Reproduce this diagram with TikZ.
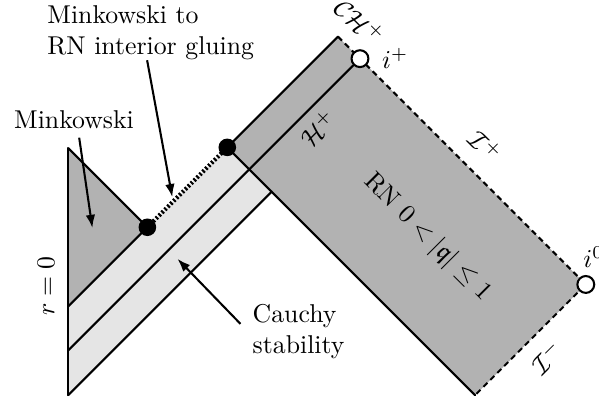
\documentclass[tikz,border=0pt]{standalone}
\usepackage{amssymb}
\usetikzlibrary{positioning,arrows.meta}

\begin{document}
\begin{tikzpicture}[
	>={Latex[length=1.8mm,width=1.3mm]},
	dark/.style={fill=black!30},
	light/.style={fill=black!10},
	wl/.style={thick, line cap=round},
	scri/.style={thick, dash pattern=on 2.2pt off 1.6pt},
	gluing/.style={line width=1.6pt, dash pattern=on 0.8pt off 0.8pt},
	dot/.style={circle, fill=black, inner sep=0pt, minimum size=2.4mm},
	open/.style={circle, draw, thick, fill=white, inner sep=0pt, minimum size=2.3mm},
	lbl/.style={->, thick},
]
\useasboundingbox (-0.93,-0.10) rectangle (7.24,5.39);

% ---- corner points of the diagram ----
\coordinate (O)   at (0,0);
\coordinate (T)   at (0,3.37);
\coordinate (A1)  at (0,1.21);
\coordinate (A2)  at (0,0.61);
\coordinate (gl)  at (1.08,2.29);
\coordinate (gr)  at (2.17,3.38);
\coordinate (top) at (3.68,4.89);
\coordinate (ip)  at (3.98,4.59);
\coordinate (io)  at (7.06,1.51);
\coordinate (bot) at (5.55,0);
\coordinate (e3)  at (2.775,2.775);

% ---- regions ----
\fill[dark]  (T) -- (gl) -- (A1) -- cycle;
\fill[light] (A1) -- (gl) -- (gr) -- (e3) -- (O) -- cycle;
\fill[dark]  (gr) -- (top) -- (io) -- (bot) -- cycle;

% ---- boundaries ----
\draw[wl] (T) -- (O);
\draw[wl] (T) -- (gl);
\draw[wl] (A1) -- (gl);
\draw[gluing] (gl) -- (gr);
\draw[wl] (gr) -- (top);
\draw[wl] (O) -- (e3);
\draw[wl] (gr) -- (bot);
\draw[scri] (top) -- (ip) -- (io) -- (bot);

% ---- points ----
\node[open] (iplus) at (ip) {};
\node[open] (izero) at (io) {};
\draw[wl] (A2) -- (iplus);
\node[dot] (g1) at (gl) {};
\node[dot] (g2) at (gr) {};

% ---- boundary labels ----
\node[rotate=90] (rlbl) at (-0.30,1.49) {$r=0$};
\node[rotate=-45] (chlbl) at (3.98,5.10) {$\mathcal{CH}^+$};
\node[right=0.5mm of iplus] (iplbl) {$i^+$};
\node[anchor=base west, inner sep=0pt] (i0lbl) at ([shift={(-0.04,0.23)}]izero.center) {$i^0$};
\node[rotate=45] (hlbl) at (3.41,3.64) {$\mathcal{H}^+$};
\node[rotate=-45] (scriplbl) at (5.69,3.40) {$\mathcal{I}^+$};
\node[rotate=45] (scrimlbl) at (6.53,0.52) {$\mathcal{I}^-$};
\node[rotate=-45] (rnlbl) at (4.90,2.155) {RN $0<|\mathfrak{q}|\leq 1$};

% ---- annotations ----
\node[anchor=north west, align=left, inner sep=0pt] (gluelbl) at (-0.29,5.32)
	{Minkowski to\\RN interior gluing};
\coordinate (gtip) at (1.42,2.70);
\draw[lbl] ([xshift=-0.5mm]gluelbl.south) -- (gtip);

\node[anchor=base] (minklbl) at (0.08,3.64) {Minkowski};
\coordinate (mtip) at (0.33,2.28);
\draw[lbl] ([xshift=0.7mm]minklbl.south) -- (mtip);

\node[anchor=north west, align=left, inner sep=0pt] (cauchylbl) at (2.51,1.24)
	{Cauchy\\stability};
\coordinate (ctip) at (1.49,1.86);
\draw[lbl] ([shift={(-0.16,0.11)}]cauchylbl.west) -- (ctip);

\end{tikzpicture}
\end{document}
